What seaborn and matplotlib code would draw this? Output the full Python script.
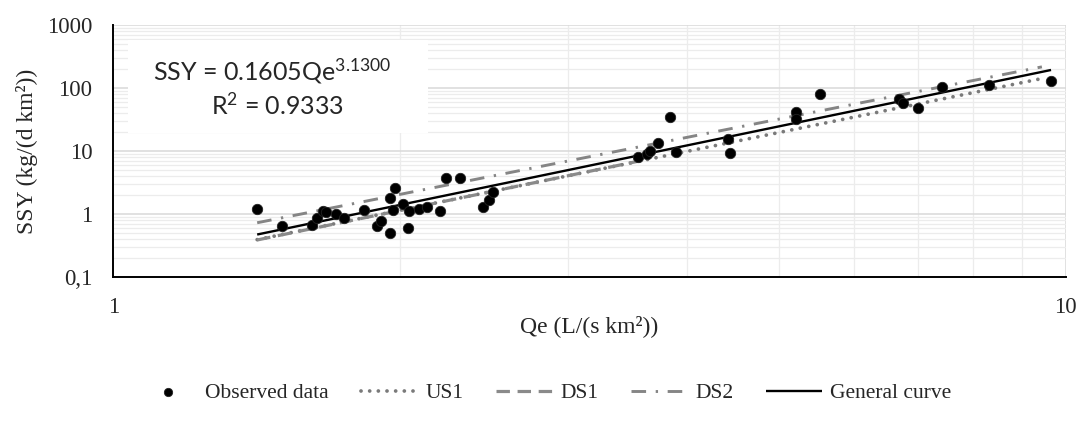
import numpy as np
import pandas as pd
import matplotlib
matplotlib.use("Agg")
import matplotlib.pyplot as plt
import matplotlib.ticker as mticker
from matplotlib.patches import Rectangle
import seaborn as sns

# Observed specific discharge (Qe) and suspended sediment yield (SSY)
qe_obs = [1.416, 1.503, 1.616, 1.637, 1.659, 1.672, 1.712, 1.746, 1.835, 1.891,
          1.909, 1.952, 1.976, 1.952, 1.968, 2.013, 2.038, 2.046, 2.093, 2.134,
          2.203, 2.234, 2.314, 2.443, 2.479, 2.503, 3.558, 3.631, 3.660, 3.735,
          3.846, 3.897, 4.420, 4.442, 5.211, 5.211, 5.519, 6.688, 6.743, 7.001,
          7.410, 8.314, 9.651]
ssy_obs = [1.21, 0.657, 0.674, 0.880, 1.136, 1.084, 0.996, 0.861, 1.166, 0.650,
           0.780, 1.786, 2.63, 0.509, 1.166, 1.467, 0.598, 1.124, 1.209, 1.315,
           1.124, 3.79, 3.71, 1.315, 1.679, 2.248, 8.15, 8.90, 10.15, 13.29,
           34.4, 9.57, 15.44, 9.43, 42.1, 32.6, 80.3, 66.2, 57.2, 47.7,
           104.9, 111.6, 127.7]

# Power-law rating curves SSY = a * Qe^b and the Qe range each one covers
curve_names = ["US1", "DS1", "DS2", "General curve"]
curve_a = [0.1346, 0.132, 0.258, 0.1605]
curve_b = [3.10, 3.12, 3.00, 3.13]
curve_qmin = [1.416, 1.416, 1.416, 1.416]
curve_qmax = [9.40, 3.60, 9.44, 9.651]

y_tick_values = [0.1, 1, 10, 100, 1000]
y_tick_labels = ["0,1", "1", "10", "100", "1000"]
x_tick_values = [1, 10]
x_tick_labels = ["1", "10"]

sns.set_style("white")
plt.rcParams["font.family"] = ["Liberation Serif", "DejaVu Serif"]
plt.rcParams["mathtext.fontset"] = "custom"
plt.rcParams["mathtext.rm"] = "Lato"
plt.rcParams["mathtext.default"] = "rm"

fig = plt.figure(figsize=(10.8, 4.24), dpi=100)
ax = fig.add_axes([0.1049, 0.346, 0.8819, 0.595])

obs = pd.DataFrame({"Qe": qe_obs, "SSY": ssy_obs})

rows = []
for name, a, b, lo, hi in zip(curve_names, curve_a, curve_b, curve_qmin, curve_qmax):
    for q in (lo, hi):
        rows.append({"curve": name, "Qe": q, "SSY": a * q ** b})
curves = pd.DataFrame(rows)

styles = {
    "US1": dict(color="#7a7a7a", lw=2.7, ls=(0, (0.01, 2.3)), cap="round"),
    "DS1": dict(color="#8a8a8a", lw=2.3, ls=(0, (4.2, 2.4)), cap="butt"),
    "DS2": dict(color="#858585", lw=2.1, ls=(0, (5.0, 3.3, 0.8, 3.3)), cap="butt"),
    "General curve": dict(color="black", lw=1.7, ls="-", cap="butt"),
}

ax.set_xscale("log")
ax.set_yscale("log")

sns.scatterplot(data=obs, x="Qe", y="SSY", ax=ax, color="black", s=56,
                edgecolor="#222222", linewidth=0.6, label="Observed data", zorder=5)

for name in curve_names:
    st = styles[name]
    sub = curves[curves["curve"] == name]
    sns.lineplot(data=sub, x="Qe", y="SSY", ax=ax, color=st["color"],
                 linewidth=st["lw"], estimator=None, sort=True, label=name, zorder=4)
    line = ax.lines[-1]
    line.set_linestyle(st["ls"])
    line.set_dash_capstyle(st["cap"])
    line.set_solid_capstyle("butt")

ax.set_xlim(1, 10)
ax.set_ylim(0.1, 1000)

ax.yaxis.set_major_locator(mticker.FixedLocator(y_tick_values))
ax.yaxis.set_major_formatter(mticker.FixedFormatter(y_tick_labels))
ax.yaxis.set_minor_locator(mticker.LogLocator(base=10, subs=np.arange(2, 10)))
ax.yaxis.set_minor_formatter(mticker.NullFormatter())
ax.xaxis.set_major_locator(mticker.FixedLocator(x_tick_values))
ax.xaxis.set_major_formatter(mticker.FixedFormatter(x_tick_labels))
ax.xaxis.set_minor_locator(mticker.LogLocator(base=10, subs=np.arange(2, 10)))
ax.xaxis.set_minor_formatter(mticker.NullFormatter())

ax.grid(which="major", axis="both", color="#d9d9d9", linewidth=1.1)
ax.grid(which="minor", axis="both", color="#ececec", linewidth=0.9)
ax.set_axisbelow(True)

ax.tick_params(which="both", length=0, labelsize=16.5)
ax.tick_params(axis="x", pad=14.5)
ax.tick_params(axis="y", pad=15)

for side in ("top", "right"):
    ax.spines[side].set_visible(False)
for side in ("left", "bottom"):
    ax.spines[side].set_color("black")
    ax.spines[side].set_linewidth(1.4)

ax.set_xlabel("Qe (L/(s km²))", fontsize=17)
ax.set_ylabel("SSY (kg/(d km²))", fontsize=17)
ax.xaxis.set_label_coords(0.5, -0.150)
ax.yaxis.set_label_coords(-0.079, 0.5)

# Equation panel
ax.add_patch(Rectangle((0.0154, 0.572), 0.3146, 0.3685, transform=ax.transAxes,
                       facecolor="white", edgecolor="none", zorder=3))
ax.text(0.167, 0.782, "SSY = 0.1605Qe$^{3.1300}$", transform=ax.transAxes,
        ha="center", va="baseline", fontsize=18, family="Lato", zorder=6)
ax.text(0.1724, 0.643, "R$^{2}$ = 0.9333", transform=ax.transAxes,
        ha="center", va="baseline", fontsize=18, family="Lato", zorder=6)

handles, labels = ax.get_legend_handles_labels()
ax.get_legend().remove()
fig.legend(handles, labels, loc="center", bbox_to_anchor=(546 / 1080, 1 - 393 / 424),
           ncol=5, frameon=False, fontsize=15.5, handlelength=2.6,
           handletextpad=0.4, columnspacing=1.5, markerscale=0.8)

fig.savefig("out.png", dpi=100)
